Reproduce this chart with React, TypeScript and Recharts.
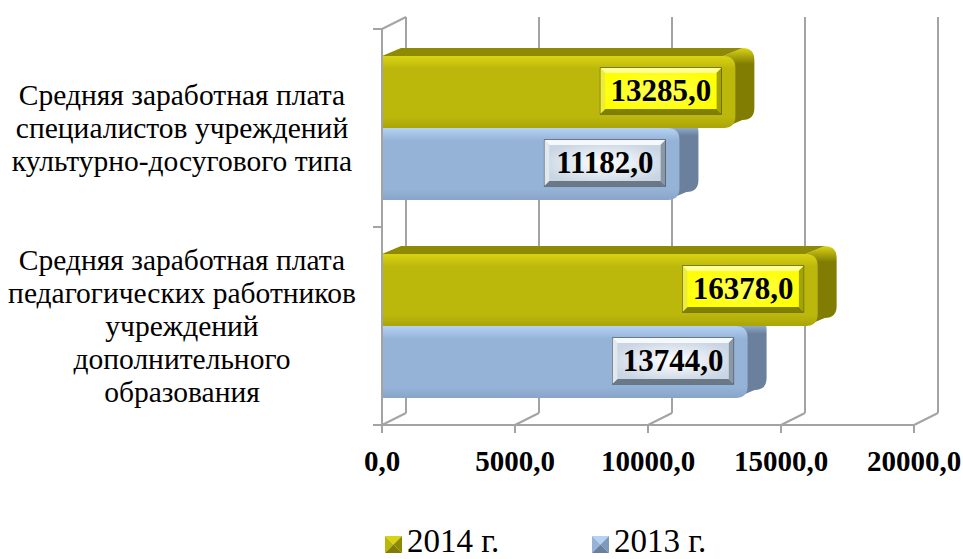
import { BarChart, Bar, XAxis, YAxis, CartesianGrid, Legend, LabelList } from 'recharts';

const categories = [
  'Средняя заработная плата\nспециалистов учреждений\nкультурно-досугового типа',
  'Средняя заработная плата\nпедагогических работников\nучреждений\nдополнительного\nобразования',
];
const values2014 = [13285, 16378];
const values2013 = [11182, 13744];
const xTicks = [0, 5000, 10000, 15000, 20000];
const seriesNames = ['2014 г.', '2013 г.'];

const data = categories.map((name, i) => ({ name, y2014: values2014[i], y2013: values2013[i] }));

const W = 963;
const H = 559;
const PLOT_LEFT = 382;
const PLOT_TOP = 29;
const PLOT_BOTTOM = 425;
const LABEL_X = 182;
const DX = 24;
const DY = -12;
const GRID = '#a3a3a3';
const SERIF = '"Liberation Serif", "Times New Roman", serif';

const OLIVE = {
  id: 'olive', light: '#d9d412', main: '#bcb70b', dark: '#aaa508', top: '#8e8a05', side: '#817d03',
  face: '#ffff00', faceIn: '#ffff5a', bevT: '#ffff99', bevL: '#eded3a', bevB: '#7f7f00', bevR: '#a3a300',
};
const BLUE = {
  id: 'blue', light: '#b5d2f4', main: '#95b3d7', dark: '#88a5c8', top: '#7f99ba', side: '#6a809c',
  face: '#c9d5e3', faceIn: '#ffffff', bevT: '#f5f8fc', bevL: '#e1e8f0', bevB: '#6b7888', bevR: '#8a97a6',
};

const fmt = (v: number) => v.toFixed(1).replace('.', ',');

function Bar3D(props: any) {
  const { x, y, width, height, pal, showTop } = props;
  const h = height;
  const r = Math.min(12, h / 2);
  const w = Math.max(width, r);
  const ox = 19;
  const oy = -8;
  const side = `M${x + w - r},${y} L${x + w - r + ox},${y + oy} Q${x + w + ox},${y + oy} ${x + w + ox},${y + oy + r} V${y + h + oy - r} Q${x + w + ox},${y + h + oy} ${x + w - r + ox},${y + h + oy} L${x + w - r},${y + h} Z`;
  const top = `M${x},${y} L${x + ox},${y + oy} H${x + w - r + ox} L${x + w - r},${y} Z`;
  const front = `M${x},${y} H${x + w - r} Q${x + w},${y} ${x + w},${y + r} V${y + h - r} Q${x + w},${y + h} ${x + w - r},${y + h} H${x} Z`;
  const clipId = `clip-${pal.id}-${Math.round(y)}`;
  return (
    <g>
      <defs>
        <linearGradient id={`fg-${pal.id}`} x1="0" y1="0" x2="0" y2="1">
          <stop offset="0" stopColor={pal.light} />
          <stop offset="0.18" stopColor={pal.main} />
          <stop offset="0.85" stopColor={pal.main} />
          <stop offset="1" stopColor={pal.dark} />
        </linearGradient>
        <linearGradient id={`sg-${pal.id}`} x1="0" y1="0" x2="0" y2="1">
          <stop offset="0" stopColor={pal.light} />
          <stop offset="0.2" stopColor={pal.side} />
          <stop offset="1" stopColor={pal.side} />
        </linearGradient>
        <clipPath id={clipId}>
          <rect x={x - 2} y={showTop ? y - 30 : y} width={w + 60} height={h + 40} />
        </clipPath>
      </defs>
      <g clipPath={`url(#${clipId})`}>
        <path d={side} fill={`url(#sg-${pal.id})`} />
        {showTop && <path d={top} fill={pal.top} />}
        <path d={front} fill={`url(#fg-${pal.id})`} />
      </g>
    </g>
  );
}

function ValueBox(props: any) {
  const { value, pal } = props;
  const vb = props.viewBox || props;
  const { x, y, width, height } = vb;
  const bw = 121;
  const bh = 46;
  const b = 5;
  const rx = x + width - 14;
  const lx = rx - bw;
  const cy = y + height / 2 - 1;
  const ty = cy - bh / 2;
  const by = cy + bh / 2;
  const gid = `box-${pal.id}`;
  return (
    <g>
      <defs>
        <radialGradient id={gid} cx="0.5" cy="0.5" r="0.6">
          <stop offset="0" stopColor={pal.faceIn} />
          <stop offset="1" stopColor={pal.face} />
        </radialGradient>
      </defs>
      <rect x={lx} y={ty} width={bw} height={bh} fill={pal.face} stroke="#3a3a3a" strokeWidth={1} />
      <polygon points={`${lx},${ty} ${rx},${ty} ${rx - b},${ty + b} ${lx + b},${ty + b}`} fill={pal.bevT} />
      <polygon points={`${lx},${ty} ${lx + b},${ty + b} ${lx + b},${by - b} ${lx},${by}`} fill={pal.bevL} />
      <polygon points={`${rx},${ty} ${rx},${by} ${rx - b},${by - b} ${rx - b},${ty + b}`} fill={pal.bevR} />
      <polygon points={`${lx},${by} ${rx},${by} ${rx - b},${by - b} ${lx + b},${by - b}`} fill={pal.bevB} />
      <rect x={lx + b} y={ty + b} width={bw - 2 * b} height={bh - 2 * b} fill={`url(#${gid})`} />
      <text x={(lx + rx) / 2} y={cy + 10} textAnchor="middle" fontFamily={SERIF} fontWeight="bold" fontSize={31} fill="#000">
        {fmt(Number(value))}
      </text>
    </g>
  );
}

function GridLine(p: any) {
  const { x1, y1, y2, index } = p;
  return (
    <g key={`g-${index}`}>
      <line x1={x1 + DX} y1={y1 + DY} x2={x1 + DX} y2={y2 + DY} stroke={GRID} strokeWidth={2} />
      <line x1={x1} y1={y2} x2={x1 + DX} y2={y2 + DY} stroke={GRID} strokeWidth={2} />
      {index === 0 && <line x1={x1} y1={y1} x2={x1 + DX} y2={y1 + DY} stroke={GRID} strokeWidth={2} />}
    </g>
  );
}

function CategoryTick(props: any) {
  const { y, payload } = props;
  const lines = String(payload.value).split('\n');
  const half = (PLOT_BOTTOM - PLOT_TOP) / categories.length / 2;
  const lh = 33;
  const y0 = y - ((lines.length - 1) * lh) / 2 + 10;
  return (
    <g>
      <text textAnchor="middle" fontFamily={SERIF} fontSize={29.5} fill="#000">
        {lines.map((l, i) => (
          <tspan key={i} x={LABEL_X} y={y0 + i * lh}>{l}</tspan>
        ))}
      </text>
      <line x1={PLOT_LEFT - 9} x2={PLOT_LEFT} y1={y - half} y2={y - half} stroke={GRID} strokeWidth={2} />
      <line x1={PLOT_LEFT - 9} x2={PLOT_LEFT} y1={y + half} y2={y + half} stroke={GRID} strokeWidth={2} />
    </g>
  );
}

function ValueTick(props: any) {
  const { x, y, payload } = props;
  return (
    <text x={x} y={y + 36} textAnchor="middle" fontFamily={SERIF} fontWeight="bold" fontSize={29} fill="#000">
      {fmt(Number(payload.value))}
    </text>
  );
}

function Marker({ x, y, pal }: any) {
  const s = 17;
  const c = s / 2;
  return (
    <g>
      <polygon points={`${x},${y} ${x + s},${y} ${x + c},${y + c}`} fill={pal.light} />
      <polygon points={`${x},${y} ${x + c},${y + c} ${x},${y + s}`} fill={pal.main} />
      <polygon points={`${x + s},${y} ${x + s},${y + s} ${x + c},${y + c}`} fill={pal.top} />
      <polygon points={`${x},${y + s} ${x + s},${y + s} ${x + c},${y + c}`} fill={pal.side} />
    </g>
  );
}

function LegendBox() {
  const pals = [OLIVE, BLUE];
  return (
    <div style={{ width: W, height: 44 }}>
      <svg width={W} height={44} style={{ display: 'block' }}>
        {seriesNames.map((n, i) => (
          <g key={n}>
            <Marker x={385 + i * 207} y={21} pal={pals[i]} />
            <text x={407 + i * 207} y={37} fontFamily={SERIF} fontSize={33} fill="#000">{n}</text>
          </g>
        ))}
      </svg>
    </div>
  );
}

export default function App() {
  return (
    <div style={{ position: 'absolute', left: 0, top: 0, width: W, height: H, background: '#fff' }}>
      <BarChart
        width={W}
        height={H}
        data={data}
        layout="vertical"
        margin={{ top: PLOT_TOP, right: W - 914, bottom: 0, left: 0 }}
        barGap={0}
        barSize={72}
      >
        <CartesianGrid horizontal={false} vertical={GridLine} />
        <XAxis
          type="number"
          domain={[0, 20000]}
          ticks={xTicks}
          interval={0}
          height={90}
          tickSize={8}
          axisLine={{ stroke: GRID, strokeWidth: 2 }}
          tickLine={{ stroke: GRID, strokeWidth: 2 }}
          tick={<ValueTick />}
        />
        <YAxis
          type="category"
          dataKey="name"
          width={PLOT_LEFT}
          axisLine={{ stroke: GRID, strokeWidth: 2 }}
          tickLine={false}
          tick={<CategoryTick />}
          interval={0}
        />
        <Legend
          verticalAlign="bottom"
          content={<LegendBox />}
          wrapperStyle={{ left: 0, bottom: 0, width: W, height: 44 }}
        />
        <Bar
          dataKey="y2014"
          name={seriesNames[0]}
          fill={OLIVE.main}
          isAnimationActive={false}
          shape={(p: any) => <Bar3D {...p} pal={OLIVE} showTop />}
        >
          <LabelList dataKey="y2014" content={(p: any) => <ValueBox {...p} pal={OLIVE} />} />
        </Bar>
        <Bar
          dataKey="y2013"
          name={seriesNames[1]}
          fill={BLUE.main}
          isAnimationActive={false}
          shape={(p: any) => <Bar3D {...p} pal={BLUE} showTop={false} />}
        >
          <LabelList dataKey="y2013" content={(p: any) => <ValueBox {...p} pal={BLUE} />} />
        </Bar>
      </BarChart>
    </div>
  );
}
